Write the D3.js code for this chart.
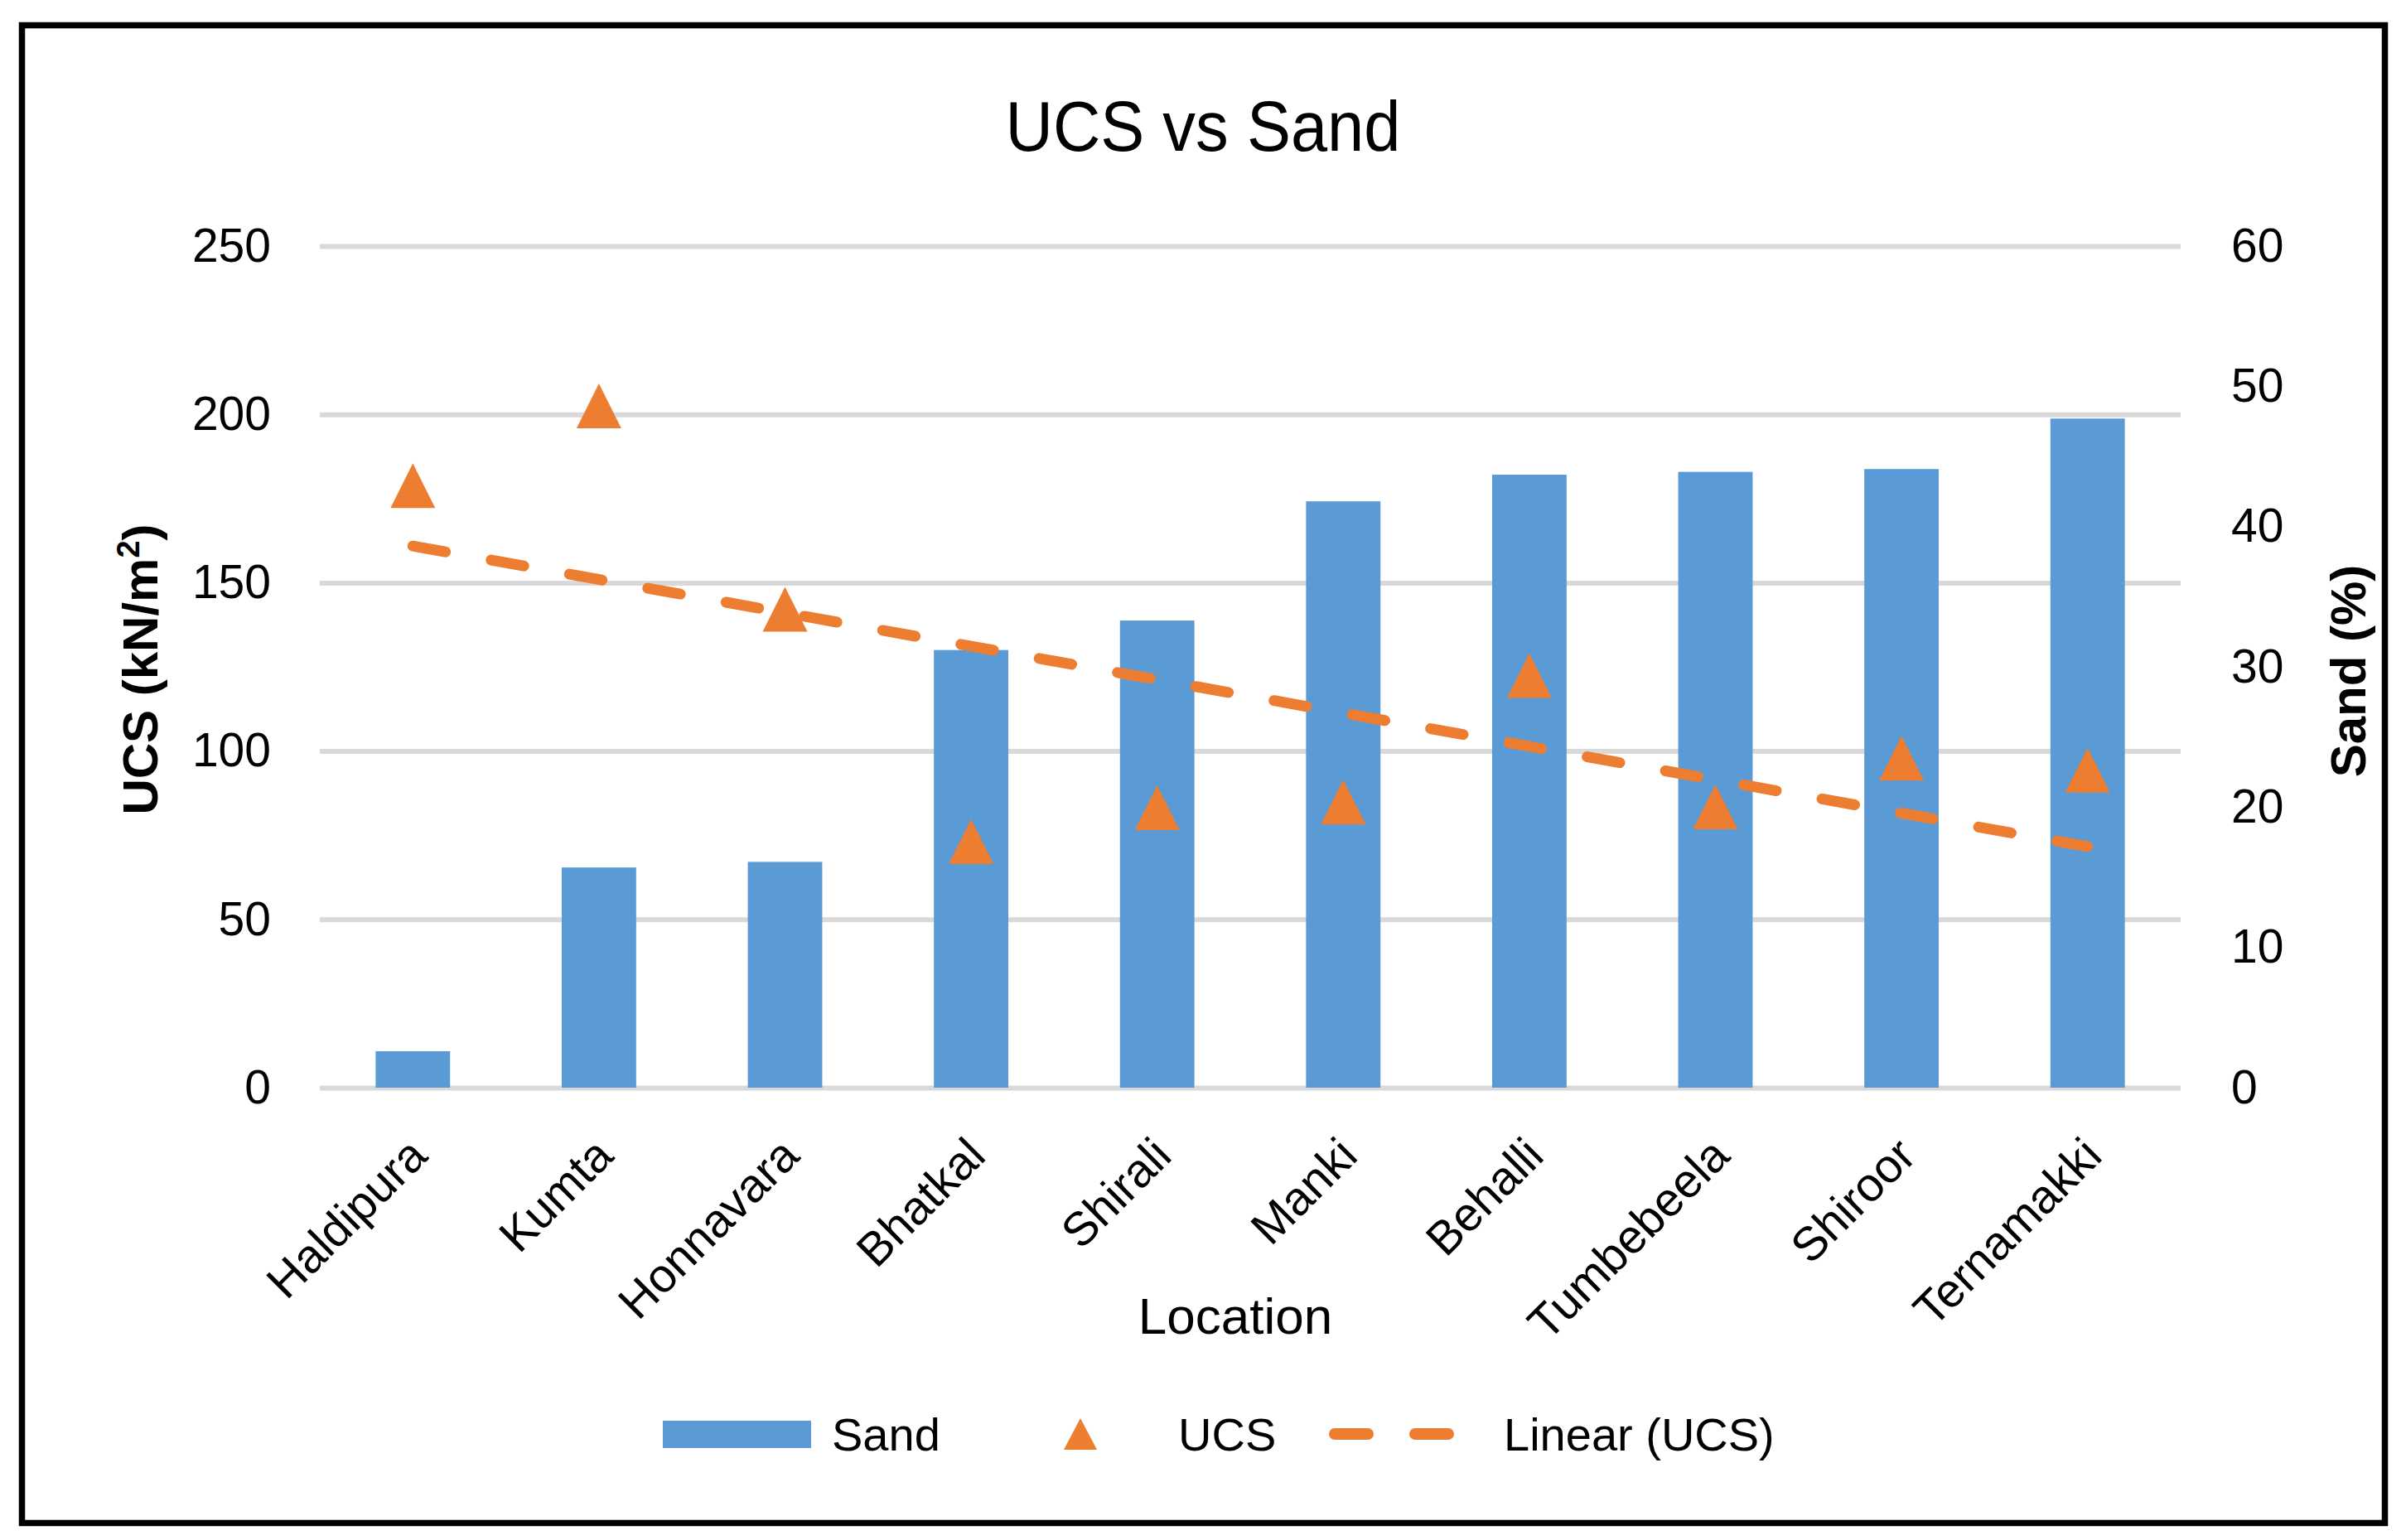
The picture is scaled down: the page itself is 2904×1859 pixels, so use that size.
<!DOCTYPE html>
<html>
<head>
  <title>UCS vs Sand</title>
  <script src="https://d3js.org/d3.v7.min.js"></script>
  <style>
    body { margin: 0; background: white; }
    svg { display: block; }
    text { font-family: "Liberation Sans", Arial, sans-serif; fill: #000; }
  </style>
</head>
<body>
<svg id="chart"></svg>
<script>
  // data
  var locations = ["Haldipura", "Kumta", "Honnavara", "Bhatkal", "Shirali",
    "Manki", "Behalli", "Tumbebeela", "Shiroor", "Ternamakki"];
  var sand = [2.6, 15.7, 16.1, 31.2, 33.3, 41.8, 43.7, 43.9, 44.1, 47.7];
  var ucs = [178.8, 202.5, 142.1, 73.1, 83.2, 84.8, 122.4, 83.4, 97.9, 94.3];
  var ucsTicks = [0, 50, 100, 150, 200, 250];
  var sandTicks = [0, 10, 20, 30, 40, 50, 60];

  var W = 2904, H = 1859;
  // plot area (note: "top" is reserved on window, so use other names)
  var pLeft = 386, pRight = 2632, pTop = 297, pBottom = 1313;
  var blue = "#5B9BD5", orange = "#ED7D31", grid = "#D9D9D9";

  var svg = d3.select("#chart").attr("width", W).attr("height", H);
  svg.append("rect").attr("width", W).attr("height", H).attr("fill", "white");

  var x = d3.scaleBand().domain(locations).range([pLeft, pRight]).paddingInner(0.6).paddingOuter(0.3);
  var xc = d3.scalePoint().domain(locations).range([pLeft, pRight]).padding(0.5);
  var y = d3.scaleLinear().domain([0, 250]).range([pBottom, pTop]);
  var y2 = d3.scaleLinear().domain([0, 60]).range([pBottom, pTop]);

  // gridlines
  svg.append("g")
    .attr("transform", `translate(${pLeft},0)`)
    .call(d3.axisLeft(y).tickValues(ucsTicks).tickSize(-(pRight - pLeft)).tickFormat(""))
    .call(g => g.select(".domain").remove())
    .call(g => g.selectAll("line").attr("stroke", grid).attr("stroke-width", 6));

  // left axis labels
  svg.append("g")
    .attr("transform", `translate(${pLeft},0)`)
    .call(d3.axisLeft(y).tickValues(ucsTicks).tickSize(0).tickPadding(59))
    .call(g => g.select(".domain").remove())
    .call(g => g.selectAll("text").style("font-size", "57px").attr("fill", "#000"));

  // right axis labels
  svg.append("g")
    .attr("transform", `translate(${pRight},0)`)
    .call(d3.axisRight(y2).tickValues(sandTicks).tickSize(0).tickPadding(61))
    .call(g => g.select(".domain").remove())
    .call(g => g.selectAll("text").style("font-size", "57px").attr("fill", "#000"));

  // bars
  svg.append("g").selectAll("rect")
    .data(locations)
    .join("rect")
    .attr("x", d => x(d))
    .attr("width", x.bandwidth())
    .attr("y", (d, i) => y2(sand[i]))
    .attr("height", (d, i) => y2(0) - y2(sand[i]))
    .attr("fill", blue);

  // linear trendline of UCS
  var n = ucs.length, xs = d3.range(1, n + 1);
  var mx = d3.mean(xs), my = d3.mean(ucs);
  var slope = d3.sum(xs, (v, i) => (v - mx) * (ucs[i] - my)) / d3.sum(xs, v => (v - mx) * (v - mx));
  var icpt = my - slope * mx;
  var line = d3.line()
    .x(i => xc(locations[i]))
    .y(i => y(icpt + slope * (i + 1)));
  svg.append("path")
    .attr("d", line([0, n - 1]))
    .attr("fill", "none")
    .attr("stroke", orange)
    .attr("stroke-width", 13)
    .attr("stroke-linecap", "round")
    .attr("stroke-dasharray", "40,56");

  // UCS triangles
  function tri(cx, cy, w, h) {
    var p = d3.path();
    p.moveTo(cx - w / 2, cy + h / 2);
    p.lineTo(cx, cy - h / 2);
    p.lineTo(cx + w / 2, cy + h / 2);
    p.closePath();
    return p.toString();
  }
  svg.append("g").selectAll("path")
    .data(locations)
    .join("path")
    .attr("d", (d, i) => tri(xc(d), y(ucs[i]), 54, 54))
    .attr("fill", orange);

  // category labels
  svg.append("g").selectAll("text")
    .data(locations)
    .join("text")
    .attr("transform", d => `translate(${xc(d) + 20},1398) rotate(-45)`)
    .attr("text-anchor", "end")
    .style("font-size", "57px")
    .text(d => d);

  // titles
  svg.append("text")
    .attr("x", 1452).attr("y", 182)
    .attr("text-anchor", "middle")
    .attr("textLength", 477).attr("lengthAdjust", "spacingAndGlyphs")
    .style("font-size", "86px")
    .text("UCS vs Sand");

  svg.append("text")
    .attr("x", 1491).attr("y", 1610)
    .attr("text-anchor", "middle")
    .style("font-size", "62px")
    .text("Location");

  var yt = svg.append("text")
    .attr("transform", "translate(190,808) rotate(-90)")
    .attr("text-anchor", "middle")
    .style("font-size", "60px")
    .style("font-weight", "bold");
  yt.append("tspan").text("UCS (kN/m");
  yt.append("tspan").attr("dy", -22).style("font-size", "38px").text("2");
  yt.append("tspan").attr("dy", 22).text(")");

  svg.append("text")
    .attr("transform", "translate(2855,810) rotate(-90)")
    .attr("text-anchor", "middle")
    .style("font-size", "60px")
    .style("font-weight", "bold")
    .text("Sand (%)");

  // legend
  var lg = svg.append("g");
  var ly = 1731;
  lg.append("rect").attr("x", 800).attr("y", ly - 16).attr("width", 179).attr("height", 33).attr("fill", blue);
  lg.append("text").attr("x", 1004).attr("y", ly + 20).style("font-size", "56px").text("Sand");
  lg.append("path").attr("d", tri(1304, ly, 40, 38)).attr("fill", orange);
  lg.append("text").attr("x", 1422).attr("y", ly + 20).style("font-size", "56px").text("UCS");
  lg.append("line")
    .attr("x1", 1611).attr("x2", 1750).attr("y1", ly).attr("y2", ly)
    .attr("stroke", orange).attr("stroke-width", 14)
    .attr("stroke-linecap", "round").attr("stroke-dasharray", "40,57");
  lg.append("text").attr("x", 1815).attr("y", ly + 20).style("font-size", "56px").text("Linear (UCS)");

  // outer border
  svg.append("rect")
    .attr("x", 26.5).attr("y", 30.5)
    .attr("width", 2852).attr("height", 1808)
    .attr("fill", "none").attr("stroke", "#000").attr("stroke-width", 7.5);
</script>
</body>
</html>
